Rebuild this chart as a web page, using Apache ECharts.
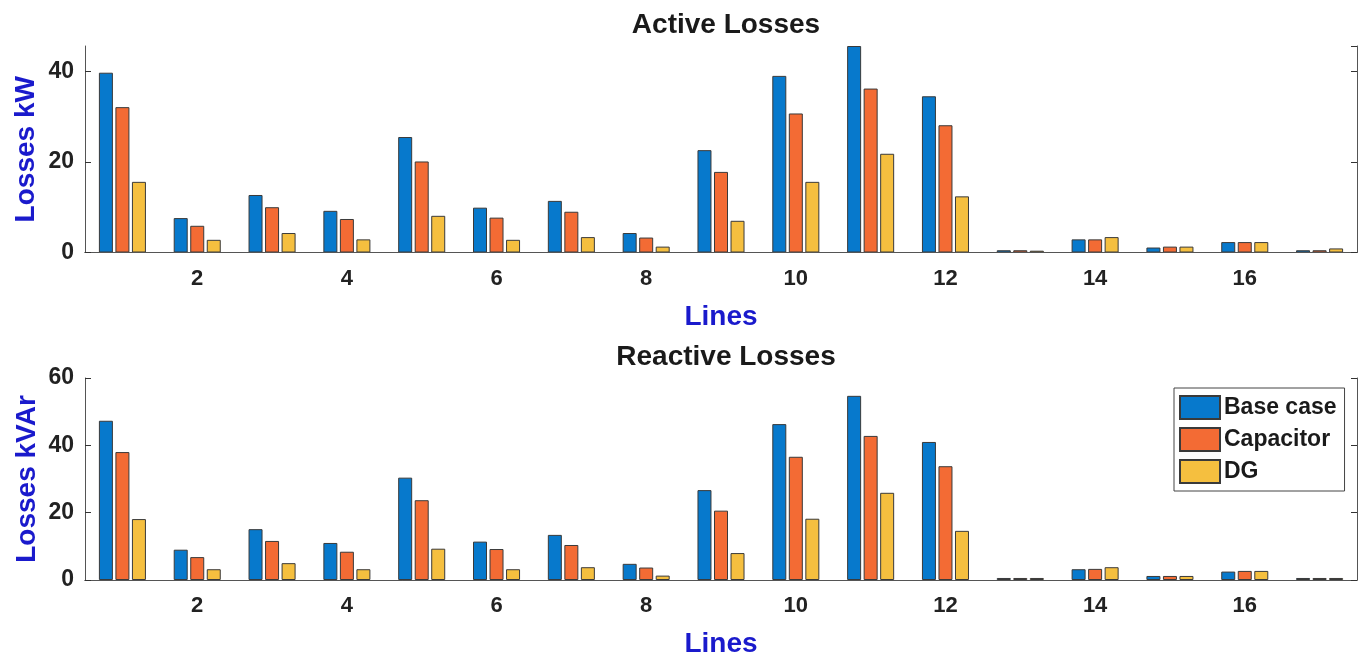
<!DOCTYPE html>
<html>
<head>
<meta charset="utf-8">
<script src="https://cdn.jsdelivr.net/npm/echarts@6/dist/echarts.min.js"></script>
<style>
html,body{margin:0;padding:0;background:#fff;}
#c{width:1364px;height:659px;}
</style>
</head>
<body>
<div id="c"></div>
<script>
var lines = ['1','2','3','4','5','6','7','8','9','10','11','12','13','14','15','16','17'];
var seriesNames = ['Base case', 'Capacitor', 'DG'];
var activeBase = [39.7, 7.6, 12.7, 9.2, 25.5, 9.9, 11.4, 4.3, 22.6, 39.0, 45.6, 34.5, 0.5, 2.9, 1.1, 2.3, 0.5];
var activeCap  = [32.1, 5.9, 10.0, 7.4, 20.1, 7.7, 9.0, 3.3, 17.8, 30.7, 36.2, 28.1, 0.5, 2.9, 1.3, 2.3, 0.5];
var activeDG   = [15.6, 2.8, 4.3, 2.9, 8.1, 2.8, 3.4, 1.3, 7.0, 15.6, 21.8, 12.4, 0.4, 3.4, 1.3, 2.3, 0.9];
var reactBase  = [47.3, 9.0, 15.1, 11.0, 30.4, 11.4, 13.4, 4.8, 26.7, 46.3, 54.7, 41.0, 0.6, 3.2, 1.2, 2.5, 0.6];
var reactCap   = [38.0, 6.8, 11.6, 8.4, 23.7, 9.2, 10.4, 3.7, 20.6, 36.6, 42.8, 33.8, 0.6, 3.3, 1.2, 2.7, 0.6];
var reactDG    = [18.1, 3.2, 5.0, 3.2, 9.3, 3.2, 3.8, 1.3, 8.0, 18.2, 25.9, 14.6, 0.6, 3.8, 1.2, 2.7, 0.6];
var activeTicks = [0, 20, 40];
var reactTicks = [0, 20, 40, 60];

var colors = ['#0779cc', '#f36b34', '#f5bf3f'];
var FONT = 'Liberation Sans';
var axisCol = '#555';
var evenIdx = function (i) { return i % 2 === 1; };

var grids = [
  {left: 85, right: 7, top: 46, height: 206.5},
  {left: 85, right: 7, top: 378, height: 202}
];

function xAxes(gi) {
  return [
    {
      type: 'category', data: lines, gridIndex: gi, position: 'bottom',
      boundaryGap: true, z: 5,
      axisLine: {lineStyle: {color: axisCol, width: 1}},
      axisTick: {inside: true, length: 6, alignWithLabel: true, interval: evenIdx, lineStyle: {color: '#333'}},
      axisLabel: {interval: evenIdx, color: '#222', fontFamily: FONT, fontWeight: 'bold', fontSize: 22, margin: 15},
      name: 'Lines', nameLocation: 'middle', nameGap: gi === 0 ? 51 : 50, nameMoveOverlap: false,
      nameTextStyle: {color: '#1a1acc', fontFamily: FONT, fontWeight: 'bold', fontSize: 28}
    },
    {
      type: 'category', data: lines, gridIndex: gi, position: 'top',
      boundaryGap: true, z: 5,
      axisLine: {lineStyle: {color: axisCol, width: 1}},
      axisTick: {inside: true, length: 6, alignWithLabel: true, interval: evenIdx, lineStyle: {color: '#333'}},
      axisLabel: {show: false}
    }
  ];
}

function yAxes(gi, maxV, ticks, nameStr, nameGap) {
  var fmt = function (v) { return ticks.indexOf(v) >= 0 ? String(v) : ''; };
  return [
    {
      type: 'value', gridIndex: gi, position: 'left', min: 0, max: maxV, interval: 20, z: 5,
      splitLine: {show: false},
      axisLine: {show: true, lineStyle: {color: axisCol, width: 1}},
      axisTick: {show: true, inside: true, length: 6, lineStyle: {color: '#333'}},
      axisLabel: {formatter: fmt, showMaxLabel: maxV === 60, color: '#222', fontFamily: FONT, fontWeight: 'bold', fontSize: 23, margin: 11},
      name: nameStr, nameLocation: 'middle', nameGap: nameGap, nameRotate: 90, nameMoveOverlap: false,
      nameTextStyle: {color: '#1a1acc', fontFamily: FONT, fontWeight: 'bold', fontSize: 28}
    },
    {
      type: 'value', gridIndex: gi, position: 'right', min: 0, max: maxV, interval: 20, z: 5,
      splitLine: {show: false},
      axisLine: {show: true, lineStyle: {color: axisCol, width: 1}},
      axisTick: {show: true, inside: true, length: 6, lineStyle: {color: '#333'}},
      axisLabel: {show: false}
    }
  ];
}

var xs = xAxes(0).concat(xAxes(1));
var ys = yAxes(0, 45.6, activeTicks, 'Losses kW', 45).concat(yAxes(1, 60, reactTicks, 'Losses kVAr', 44));

function barSeries(name, data, ci, xi, yi) {
  return {
    name: name, type: 'bar', data: data, xAxisIndex: xi, yAxisIndex: yi,
    barWidth: 14, barGap: '18%',
    itemStyle: {color: colors[ci], borderColor: '#3a3a3a', borderWidth: 1},
    emphasis: {disabled: true}
  };
}

var series = [
  barSeries('Base case', activeBase, 0, 0, 0),
  barSeries('Capacitor', activeCap, 1, 0, 0),
  barSeries('DG', activeDG, 2, 0, 0),
  barSeries('Base case', reactBase, 0, 2, 2),
  barSeries('Capacitor', reactCap, 1, 2, 2),
  barSeries('DG', reactDG, 2, 2, 2)
];

var chart = echarts.init(document.getElementById('c'), null, {renderer: 'canvas'});
chart.setOption({
  animation: false,
  backgroundColor: '#fff',
  title: [
    {text: 'Active Losses', left: 721, top: 6, textAlign: 'center',
      textStyle: {fontFamily: FONT, fontWeight: 'bold', fontSize: 28, color: '#1a1a1a'}},
    {text: 'Reactive Losses', left: 721, top: 338, textAlign: 'center',
      textStyle: {fontFamily: FONT, fontWeight: 'bold', fontSize: 28, color: '#1a1a1a'}}
  ],
  legend: {
    data: seriesNames, orient: 'vertical', left: 1174, top: 388,
    itemWidth: 40, itemHeight: 23, itemGap: 7,
    padding: [7, 8, 7, 5],
    backgroundColor: '#fff', borderColor: '#444', borderWidth: 1,
    icon: 'rect',
    textStyle: {fontFamily: FONT, fontWeight: 'bold', fontSize: 23, color: '#1a1a1a', padding: [0, 0, 0, -1]},
    selectedMode: false
  },
  grid: grids,
  xAxis: xs,
  yAxis: ys,
  series: series
});
</script>
</body>
</html>
